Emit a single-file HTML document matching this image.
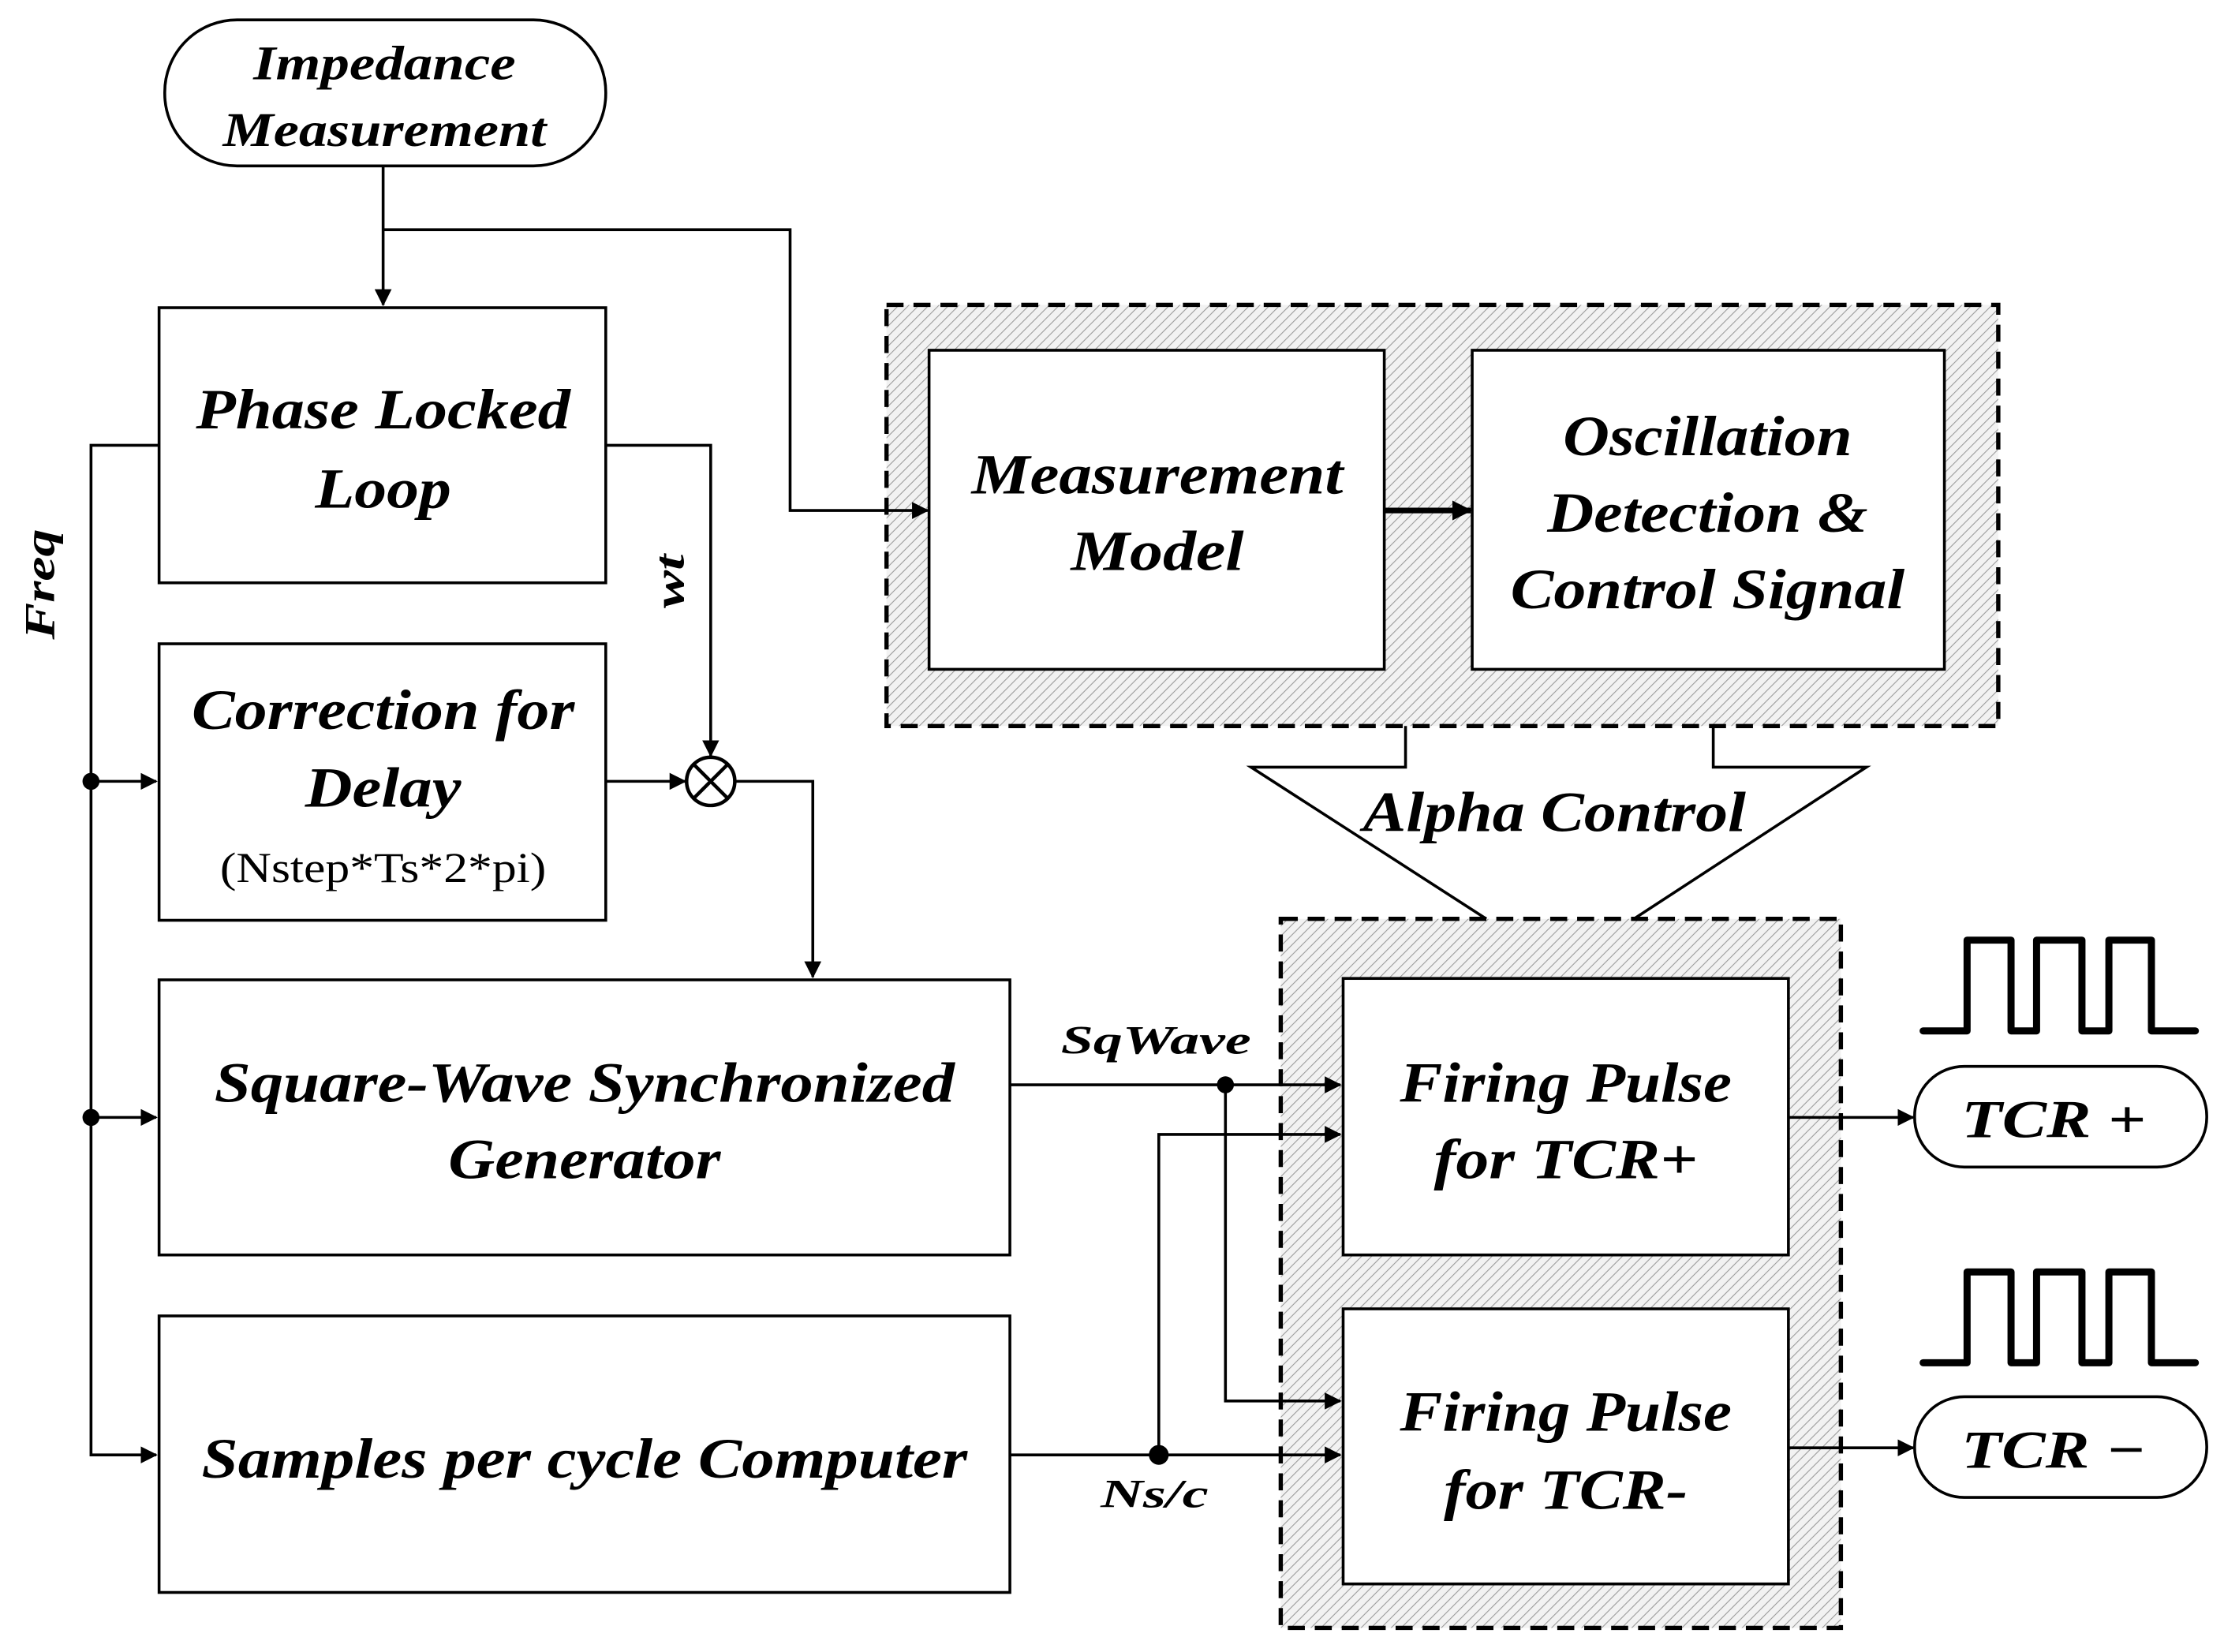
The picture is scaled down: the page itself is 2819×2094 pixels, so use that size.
<!DOCTYPE html>
<html><head><meta charset="utf-8"><style>
html,body{margin:0;padding:0;background:#fff;}
svg{display:block;}
text{font-family:"Liberation Serif",serif;font-weight:bold;font-style:italic;fill:#000;}
text.reg{font-weight:normal;font-style:normal;}
</style></head><body>
<svg width="2819" height="2094" viewBox="0 0 1568 1165" xmlns="http://www.w3.org/2000/svg">
<defs>
<pattern id="h" width="5" height="5" patternUnits="userSpaceOnUse" patternTransform="rotate(45)">
<rect width="5" height="5" fill="#f2f2f2"/>
<line x1="0" y1="0" x2="0" y2="5" stroke="#9a9a9a" stroke-width="1.2"/>
</pattern>
<marker id="a" markerWidth="12" markerHeight="12" refX="11" refY="6" orient="auto" markerUnits="userSpaceOnUse">
<path d="M0,0 L12,6 L0,12 Z" fill="#000"/>
</marker>
<marker id="a2" markerWidth="14" markerHeight="14" refX="13" refY="7" orient="auto" markerUnits="userSpaceOnUse">
<path d="M0,0 L14,7 L0,14 Z" fill="#000"/>
</marker>
</defs>
<g fill="none" stroke="#000" stroke-width="2">
<rect x="625" y="215" width="784" height="297" fill="url(#h)" stroke-dasharray="12,7" stroke-width="3"/>
<rect x="903" y="648" width="395" height="500" fill="url(#h)" stroke-dasharray="12,7" stroke-width="3"/>
<path d="M991,512 V541 H882 L1048,648 M1152,648 L1316,541 H1208 V512" fill="none"/>
<rect x="116" y="14" width="311" height="103" rx="51" fill="#fff"/>
<rect x="112" y="217" width="315" height="194" fill="#fff"/>
<rect x="112" y="454" width="315" height="195" fill="#fff"/>
<rect x="112" y="691" width="600" height="194" fill="#fff"/>
<rect x="112" y="928" width="600" height="195" fill="#fff"/>
<rect x="655" y="247" width="321" height="225" fill="#fff"/>
<rect x="1038" y="247" width="333" height="225" fill="#fff"/>
<rect x="947" y="690" width="314" height="195" fill="#fff"/>
<rect x="947" y="923" width="314" height="194" fill="#fff"/>
<rect x="1350" y="752" width="206" height="71" rx="35" fill="#fff"/>
<rect x="1350" y="985" width="206" height="71" rx="35" fill="#fff"/>
<path d="M270,117 V215" marker-end="url(#a)"/>
<path d="M270,162 H557 V360 H654" marker-end="url(#a)"/>
<path d="M112,314 H64 V1026 H110" marker-end="url(#a)"/>
<path d="M64,551 H110" marker-end="url(#a)"/>
<path d="M64,788 H110" marker-end="url(#a)"/>
<path d="M427,314 H501 V533" marker-end="url(#a)"/>
<path d="M427,551 H483" marker-end="url(#a)"/>
<path d="M518,551 H573 V689" marker-end="url(#a)"/>
<circle cx="501" cy="551" r="17" fill="#fff" stroke-width="2.5"/>
<path d="M489,539 L513,563 M513,539 L489,563" stroke-width="2.5"/>
<path d="M976,360 H1037" stroke-width="4" marker-end="url(#a2)"/>
<path d="M712,765 H945" marker-end="url(#a)"/>
<path d="M864,765 V988 H945" marker-end="url(#a)"/>
<path d="M712,1026 H945" marker-end="url(#a)"/>
<path d="M817,1026 V800 H945" marker-end="url(#a)"/>
<path d="M1261,788 H1349" marker-end="url(#a)"/>
<path d="M1261,1021 H1349" marker-end="url(#a)"/>
<path d="M1356,727 H1387 V663 H1418 V727 H1436 V663 H1468 V727 H1487 V663 H1517 V727 H1548" stroke-width="5" stroke-linejoin="round" stroke-linecap="round"/>
<path d="M1356,961 H1387 V897 H1418 V961 H1436 V897 H1468 V961 H1487 V897 H1517 V961 H1548" stroke-width="5" stroke-linejoin="round" stroke-linecap="round"/>
</g>
<g fill="#000" stroke="none">
<circle cx="64" cy="551" r="6"/>
<circle cx="64" cy="788" r="6"/>
<circle cx="864" cy="765" r="6"/>
<circle cx="817" cy="1026" r="7"/>
</g>
<g text-anchor="middle">
<text x="271" y="56" font-size="34" textLength="185" lengthAdjust="spacingAndGlyphs">Impedance</text>
<text x="271" y="103" font-size="34" textLength="228" lengthAdjust="spacingAndGlyphs">Measurement</text>
<text x="270" y="302" font-size="40" textLength="264" lengthAdjust="spacingAndGlyphs">Phase Locked</text>
<text x="270" y="358" font-size="40" textLength="96" lengthAdjust="spacingAndGlyphs">Loop</text>
<text x="270" y="514" font-size="40" textLength="270" lengthAdjust="spacingAndGlyphs">Correction for</text>
<text x="270" y="569" font-size="40" textLength="110" lengthAdjust="spacingAndGlyphs">Delay</text>
<text class="reg" x="270" y="622" font-size="30" textLength="230" lengthAdjust="spacingAndGlyphs">(Nstep*Ts*2*pi)</text>
<text x="412" y="777" font-size="40" textLength="522" lengthAdjust="spacingAndGlyphs">Square-Wave Synchronized</text>
<text x="412" y="831" font-size="40" textLength="192" lengthAdjust="spacingAndGlyphs">Generator</text>
<text x="412" y="1042" font-size="40" textLength="540" lengthAdjust="spacingAndGlyphs">Samples per cycle Computer</text>
<text x="816" y="348" font-size="40" textLength="262" lengthAdjust="spacingAndGlyphs">Measurement</text>
<text x="816" y="402" font-size="40" textLength="122" lengthAdjust="spacingAndGlyphs">Model</text>
<text x="1204" y="321" font-size="40" textLength="204" lengthAdjust="spacingAndGlyphs">Oscillation</text>
<text x="1204" y="375" font-size="40" textLength="226" lengthAdjust="spacingAndGlyphs">Detection &amp;</text>
<text x="1204" y="429" font-size="40" textLength="278" lengthAdjust="spacingAndGlyphs">Control Signal</text>
<text x="1096" y="586" font-size="40" textLength="270" lengthAdjust="spacingAndGlyphs">Alpha Control</text>
<text x="1104" y="777" font-size="40" textLength="234" lengthAdjust="spacingAndGlyphs">Firing Pulse</text>
<text x="1104" y="831" font-size="40" textLength="186" lengthAdjust="spacingAndGlyphs">for TCR+</text>
<text x="1104" y="1009" font-size="40" textLength="234" lengthAdjust="spacingAndGlyphs">Firing Pulse</text>
<text x="1104" y="1064" font-size="40" textLength="172" lengthAdjust="spacingAndGlyphs">for TCR-</text>
<text x="1448" y="802" font-size="38" textLength="130" lengthAdjust="spacingAndGlyphs">TCR +</text>
<text x="1448" y="1035" font-size="38" textLength="130" lengthAdjust="spacingAndGlyphs">TCR −</text>
<text x="815" y="743" font-size="28" textLength="134" lengthAdjust="spacingAndGlyphs">SqWave</text>
<text x="814" y="1063" font-size="28" textLength="76" lengthAdjust="spacingAndGlyphs">Ns/c</text>
<text transform="translate(38,412) rotate(-90)" font-size="30" textLength="78" lengthAdjust="spacingAndGlyphs">Freq</text>
<text transform="translate(482,410) rotate(-90)" font-size="30" textLength="38" lengthAdjust="spacingAndGlyphs">wt</text>
</g>
</svg>
</body></html>
